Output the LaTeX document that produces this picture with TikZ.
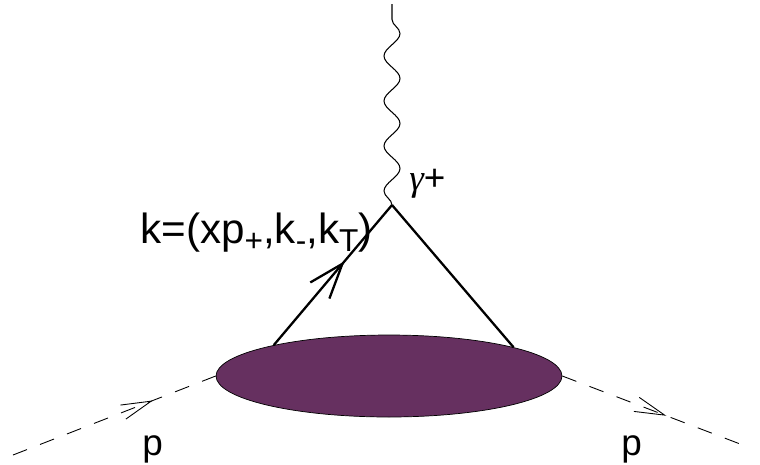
\documentclass[tikz,border=0pt]{standalone}
\usepackage{fontspec}
\setmainfont{Liberation Sans}
\newfontfamily\grkfont{Liberation Serif}
\usetikzlibrary{shapes.geometric,arrows.meta,decorations.pathmorphing,decorations.markings}
\definecolor{blobcol}{RGB}{102,48,96}
\newcommand{\lowsub}[1]{\raisebox{-0.4ex}{\fontsize{18}{18}\selectfont #1}}
\begin{document}
\begin{tikzpicture}[x=0.02cm, y=-0.02cm, line join=round,
	fermion/.style={line width=1.3pt, postaction={decorate}, decoration={markings,
		mark=at position 0.6 with {\arrow{Straight Barb[length=0.7cm,width=0.5cm,line width=1.3pt]}}}},
	proton/.style={line width=0.5pt, dash pattern=on 0.3cm off 0.28cm, postaction={decorate},
		decoration={markings, mark=at position #1 with {\arrow{Straight Barb[length=0.6cm,width=0.3cm,line width=0.5pt]}}}},
	photon/.style={line width=0.6pt, decorate, decoration={snake, amplitude=0.16cm, segment length=0.9cm}},
	lbl/.style={inner sep=0pt, anchor=base west}]
	\useasboundingbox (0,0) rectangle (760,464);
	% hadron blob and vertex
	\node[ellipse, draw, line width=0.4pt, fill=blobcol, minimum width=6.92cm, minimum height=1.64cm, inner sep=0pt] (blob) at (389,376) {};
	\coordinate (vtx) at (392,205);
	\coordinate (top) at (392,4);
	\coordinate (pin) at (13,455);
	\coordinate (pout) at (748,447);
	% quark lines
	\draw[fermion] (blob.165) -- (vtx);
	\draw[line width=1.3pt] (vtx) -- (blob.13);
	\draw[photon] (vtx) -- (top);
	% incoming and outgoing proton
	\draw[proton=0.69] (pin) -- (blob.west);
	\draw[proton=0.56] (blob.east) -- (pout);
	% labels
	\node[lbl, font=\fontsize{24}{28}\selectfont] (klab) at (140,243) {k=(xp\lowsub{+},k\lowsub{-},k\lowsub{T})};
	\node[lbl, font=\fontsize{21}{24}\selectfont] (glab) at (409,190) {{\grkfont\itshape γ}+};
	\node[lbl, font=\fontsize{21}{24}\selectfont] (plab) at (142,455) {p};
	\node[lbl, font=\fontsize{21}{24}\selectfont] (qlab) at (621,455) {p};
\end{tikzpicture}
\end{document}
